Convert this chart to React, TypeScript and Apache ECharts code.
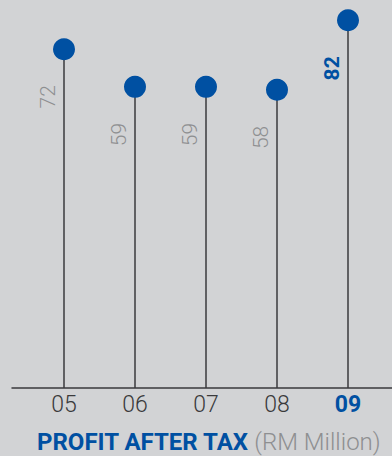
import React, { useEffect, useRef } from "react";
import * as echarts from "echarts";

// Financial years and profit after tax (RM Million)
const years = ["05", "06", "07", "08", "09"];
const profit = [72, 59, 59, 58, 82];
const currentYearIndex = 4;

// Value range of the hidden vertical scale
const AXIS_FLOOR = -45;
const AXIS_CEIL = 89;

const BLUE = "#0050a2";
const GREY_TEXT = "#8e8f91";
const DARK = "#3a3a3c";
const BG = "#d2d3d5";
const FONT = "Roboto, 'Noto Sans', sans-serif";

export default function App() {
  const ref = useRef<HTMLDivElement>(null);

  useEffect(() => {
    if (!ref.current) return;
    const chart = echarts.init(ref.current, undefined, { renderer: "svg" });

    chart.setOption({
      animation: false,
      backgroundColor: BG,
      title: {
        left: 37,
        top: 430,
        padding: 0,
        text: "{a|PROFIT AFTER TAX} {b|(RM Million)}",
        textStyle: {
          rich: {
            a: { fontFamily: FONT, fontSize: 24, fontWeight: "bold", color: BLUE },
            b: { fontFamily: FONT, fontSize: 24, fontWeight: 300, color: GREY_TEXT },
          },
        },
      },
      grid: [
        { left: 28.5, right: 8.5, top: 0, bottom: 68 },
        { left: 12, right: 0, top: 0, bottom: 68 },
      ],
      xAxis: [
        {
          type: "category",
          gridIndex: 0,
          data: years,
          boundaryGap: true,
          axisLine: { show: false },
          axisTick: { show: false },
          axisLabel: {
            interval: 0,
            margin: 5,
            fontFamily: FONT,
            fontSize: 23,
            fontWeight: 300,
            color: DARK,
            formatter: (val: string, idx: number) =>
              idx === currentYearIndex ? `{cur|${val}}` : val,
            rich: {
              cur: { fontFamily: FONT, fontSize: 23, fontWeight: "bold", color: BLUE },
            },
          },
        },
        {
          type: "value",
          gridIndex: 1,
          min: 0,
          max: 1,
          axisLine: { show: true, onZero: false, lineStyle: { color: DARK, width: 1.5 } },
          axisTick: { show: false },
          axisLabel: { show: false },
          splitLine: { show: false },
        },
      ],
      yAxis: [
        { type: "value", gridIndex: 0, min: AXIS_FLOOR, max: AXIS_CEIL, show: false },
        { type: "value", gridIndex: 1, min: 0, max: 1, show: false },
      ],
      series: [
        {
          type: "custom",
          xAxisIndex: 0,
          yAxisIndex: 0,
          data: profit.map((v, i) => [i, v]),
          renderItem: (params: any, api: any) => {
            const i = api.value(0);
            const v = api.value(1);
            const top = api.coord([i, v]);
            const base = api.coord([i, AXIS_FLOOR]);
            const isCurrent = i === currentYearIndex;
            return {
              type: "group",
              children: [
                {
                  type: "line",
                  shape: { x1: top[0], y1: base[1], x2: top[0], y2: top[1] },
                  style: { stroke: DARK, lineWidth: 1.5 },
                },
                {
                  type: "circle",
                  shape: { cx: top[0], cy: top[1], r: 11 },
                  style: { fill: BLUE },
                },
                {
                  type: "text",
                  x: top[0] - 16,
                  y: top[1] + 36,
                  rotation: Math.PI / 2,
                  style: {
                    text: String(v),
                    align: "right",
                    verticalAlign: "middle",
                    fontFamily: FONT,
                    fontSize: 21,
                    fontWeight: isCurrent ? "bold" : 300,
                    fill: isCurrent ? BLUE : GREY_TEXT,
                  },
                },
              ],
            };
          },
        },
      ],
    });

    return () => chart.dispose();
  }, []);

  return (
    <div
      ref={ref}
      style={{ position: "fixed", left: 0, top: 0, width: 392, height: 456, background: BG }}
    />
  );
}
